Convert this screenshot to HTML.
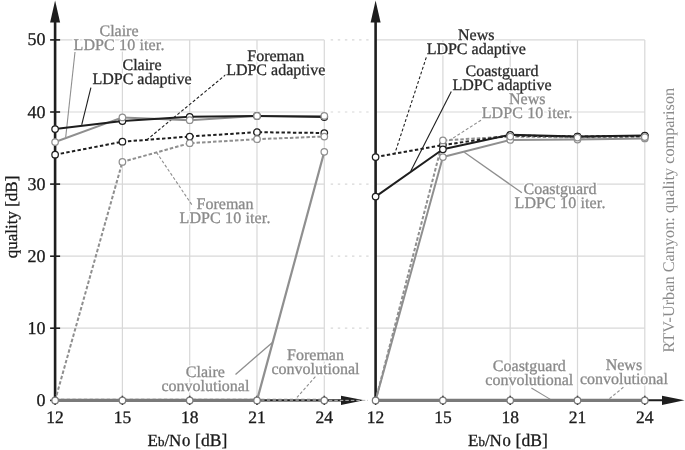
<!DOCTYPE html>
<html><head><meta charset="utf-8"><style>
html,body{margin:0;padding:0;background:#fff;}
svg{display:block;will-change:transform;}
text{text-rendering:geometricPrecision;font-family:"Liberation Serif",serif;font-size:16px;}
g.halo text{fill:#fff;stroke:#fff;stroke-width:3px;stroke-linejoin:round;}
g.lab text{stroke-width:0.3px;}
text.tk{font-size:18px;fill:#1a1a1a;stroke:#1a1a1a;stroke-width:0.3px;}
text.ax{font-size:17px;fill:#1a1a1a;stroke:#1a1a1a;stroke-width:0.3px;}
</style></head><body>
<svg width="685" height="450" viewBox="0 0 685 450">
<rect width="685" height="450" fill="#fff"/>
<g stroke="#d8d8d8" stroke-width="1.2"><line x1="55.1" y1="328.2" x2="324.3" y2="328.2"/><line x1="375.6" y1="328.2" x2="644.8" y2="328.2"/><line x1="55.1" y1="256.2" x2="324.3" y2="256.2"/><line x1="375.6" y1="256.2" x2="644.8" y2="256.2"/><line x1="55.1" y1="184.1" x2="324.3" y2="184.1"/><line x1="375.6" y1="184.1" x2="644.8" y2="184.1"/><line x1="55.1" y1="112.0" x2="324.3" y2="112.0"/><line x1="375.6" y1="112.0" x2="644.8" y2="112.0"/><line x1="55.1" y1="39.9" x2="324.3" y2="39.9"/><line x1="375.6" y1="39.9" x2="644.8" y2="39.9"/><line x1="122.4" y1="39.9" x2="122.4" y2="400.4"/><line x1="442.9" y1="39.9" x2="442.9" y2="400.4"/><line x1="189.7" y1="39.9" x2="189.7" y2="400.4"/><line x1="510.2" y1="39.9" x2="510.2" y2="400.4"/><line x1="257.0" y1="39.9" x2="257.0" y2="400.4"/><line x1="577.5" y1="39.9" x2="577.5" y2="400.4"/><line x1="324.3" y1="39.9" x2="324.3" y2="400.4"/><line x1="644.8" y1="39.9" x2="644.8" y2="400.4"/></g><g stroke="#d8d8d8" stroke-width="1.2" stroke-dasharray="2.4 4.7"><line x1="330.7" y1="328.2" x2="371.6" y2="328.2"/><line x1="330.7" y1="256.2" x2="371.6" y2="256.2"/><line x1="330.7" y1="184.1" x2="371.6" y2="184.1"/><line x1="330.7" y1="112.0" x2="371.6" y2="112.0"/><line x1="330.7" y1="39.9" x2="371.6" y2="39.9"/></g><line x1="55.1" y1="22" x2="55.1" y2="400.35" stroke="#1e1e1e" stroke-width="2.6"/><polygon points="55.1,0.5 50.1,22.5 60.1,22.5" fill="#1e1e1e"/><line x1="375.6" y1="22" x2="375.6" y2="400.35" stroke="#1e1e1e" stroke-width="2.6"/><polygon points="375.6,0.5 370.6,22.5 380.6,22.5" fill="#1e1e1e"/><line x1="55.1" y1="400.35" x2="342" y2="400.35" stroke="#1e1e1e" stroke-width="2.3"/><polygon points="364,400.35 341,395.65000000000003 341,405.05" fill="#1e1e1e"/><line x1="375.6" y1="400.35" x2="663" y2="400.35" stroke="#1e1e1e" stroke-width="2"/><polygon points="684.5,400.35 662,395.65000000000003 662,405.05" fill="#1e1e1e"/><line x1="50.1" y1="400.4" x2="60.1" y2="400.4" stroke="#1e1e1e" stroke-width="1.6"/><line x1="50.1" y1="328.2" x2="60.1" y2="328.2" stroke="#1e1e1e" stroke-width="1.6"/><line x1="50.1" y1="256.2" x2="60.1" y2="256.2" stroke="#1e1e1e" stroke-width="1.6"/><line x1="50.1" y1="184.1" x2="60.1" y2="184.1" stroke="#1e1e1e" stroke-width="1.6"/><line x1="50.1" y1="112.0" x2="60.1" y2="112.0" stroke="#1e1e1e" stroke-width="1.6"/><line x1="50.1" y1="39.9" x2="60.1" y2="39.9" stroke="#1e1e1e" stroke-width="1.6"/><line x1="55.1" y1="395.75" x2="55.1" y2="404.95000000000005" stroke="#1e1e1e" stroke-width="1.6"/><line x1="375.6" y1="395.75" x2="375.6" y2="404.95000000000005" stroke="#1e1e1e" stroke-width="1.6"/><line x1="122.4" y1="395.75" x2="122.4" y2="404.95000000000005" stroke="#1e1e1e" stroke-width="1.6"/><line x1="442.9" y1="395.75" x2="442.9" y2="404.95000000000005" stroke="#1e1e1e" stroke-width="1.6"/><line x1="189.7" y1="395.75" x2="189.7" y2="404.95000000000005" stroke="#1e1e1e" stroke-width="1.6"/><line x1="510.2" y1="395.75" x2="510.2" y2="404.95000000000005" stroke="#1e1e1e" stroke-width="1.6"/><line x1="257.0" y1="395.75" x2="257.0" y2="404.95000000000005" stroke="#1e1e1e" stroke-width="1.6"/><line x1="577.5" y1="395.75" x2="577.5" y2="404.95000000000005" stroke="#1e1e1e" stroke-width="1.6"/><line x1="324.3" y1="395.75" x2="324.3" y2="404.95000000000005" stroke="#1e1e1e" stroke-width="1.6"/><line x1="644.8" y1="395.75" x2="644.8" y2="404.95000000000005" stroke="#1e1e1e" stroke-width="1.6"/><line x1="75" y1="52" x2="65.7" y2="137.3" stroke="#8f8f8f" stroke-width="1.1"/><line x1="90.9" y1="87.7" x2="81.7" y2="124.9" stroke="#1e1e1e" stroke-width="1.1"/><line x1="226" y1="74.5" x2="145.8" y2="140.7" stroke="#1e1e1e" stroke-width="1.1" stroke-dasharray="3 2"/><line x1="156.5" y1="152.4" x2="192" y2="205" stroke="#8f8f8f" stroke-width="1.1" stroke-dasharray="3 2"/><line x1="235.5" y1="374.5" x2="273" y2="342" stroke="#8f8f8f" stroke-width="1.3"/><line x1="315.4" y1="376.6" x2="297" y2="397.4" stroke="#8f8f8f" stroke-width="1.1" stroke-dasharray="3 2"/><line x1="426.3" y1="57.3" x2="395" y2="153" stroke="#1e1e1e" stroke-width="1.1" stroke-dasharray="3 2"/><line x1="451.3" y1="91.5" x2="410.8" y2="171" stroke="#1e1e1e" stroke-width="1.1"/><line x1="481" y1="120.2" x2="449" y2="140.7" stroke="#8f8f8f" stroke-width="1.1" stroke-dasharray="3 2"/><line x1="464.3" y1="152.3" x2="521.9" y2="192.7" stroke="#8f8f8f" stroke-width="1.3"/><line x1="531.4" y1="388" x2="550.8" y2="399.6" stroke="#8f8f8f" stroke-width="1.1"/><line x1="623.4" y1="387.3" x2="607.8" y2="400" stroke="#8f8f8f" stroke-width="1.1" stroke-dasharray="3 2"/><polyline points="55.1,400.4 324.3,400.4" fill="none" stroke="#858585" stroke-width="3.2" stroke-linejoin="round" stroke-dasharray="3.32 2.4" stroke-dashoffset="5.56"/><polyline points="55.1,400.4 122.4,400.4 189.7,400.4 257.0,400.4" fill="none" stroke="#7a7a7a" stroke-width="3.2" stroke-linejoin="round"/><polyline points="257.0,400.4 324.3,151.8" fill="none" stroke="#8f8f8f" stroke-width="2.2" stroke-linejoin="round"/><polyline points="55.1,400.4 122.4,161.9 189.7,143.2 257.0,139.2 324.3,136.5" fill="none" stroke="#8f8f8f" stroke-width="2.0" stroke-linejoin="round" stroke-dasharray="3.5 2.0"/><polyline points="55.1,154.7 122.4,141.7 189.7,136.5 257.0,132.2 324.3,133.0" fill="none" stroke="#1e1e1e" stroke-width="2.0" stroke-linejoin="round" stroke-dasharray="3.4 2.3"/><polyline points="55.1,142.0 122.4,117.4 189.7,120.2 257.0,115.9 324.3,115.9" fill="none" stroke="#8f8f8f" stroke-width="2.0" stroke-linejoin="round"/><polyline points="55.1,129.1 122.4,121.0 189.7,116.8 257.0,115.9 324.3,117.0" fill="none" stroke="#1e1e1e" stroke-width="2.0" stroke-linejoin="round"/><polyline points="375.6,400.4 644.8,400.4" fill="none" stroke="#7a7a7a" stroke-width="3.2" stroke-linejoin="round"/><polyline points="375.6,400.4 442.9,157.0 510.2,139.9 577.5,139.5 644.8,138.4" fill="none" stroke="#8f8f8f" stroke-width="2.0" stroke-linejoin="round"/><polyline points="375.6,400.4 442.9,140.4 510.2,136.5 577.5,137.5 644.8,137.0" fill="none" stroke="#8f8f8f" stroke-width="2.0" stroke-linejoin="round" stroke-dasharray="3.5 2.0"/><polyline points="375.6,157.0 442.9,145.0 510.2,135.5 577.5,136.5 644.8,136.0" fill="none" stroke="#1e1e1e" stroke-width="2.0" stroke-linejoin="round" stroke-dasharray="3.4 2.3"/><polyline points="375.6,196.6 442.9,149.3 510.2,134.8 577.5,136.5 644.8,135.6" fill="none" stroke="#1e1e1e" stroke-width="2.0" stroke-linejoin="round"/><line x1="324.3" y1="400.35" x2="368" y2="400.35" stroke="#b8b8b8" stroke-width="1" stroke-dasharray="3.5 2" stroke-dashoffset="1"/><circle cx="55.1" cy="400.4" r="3.25" fill="#fff" stroke="#7a7a7a" stroke-width="1.25"/><circle cx="122.4" cy="400.4" r="3.25" fill="#fff" stroke="#7a7a7a" stroke-width="1.25"/><circle cx="189.7" cy="400.4" r="3.25" fill="#fff" stroke="#7a7a7a" stroke-width="1.25"/><circle cx="257.0" cy="400.4" r="3.25" fill="#fff" stroke="#7a7a7a" stroke-width="1.25"/><circle cx="324.3" cy="400.4" r="3.25" fill="#fff" stroke="#7a7a7a" stroke-width="1.25"/><circle cx="55.1" cy="154.7" r="3.25" fill="#fff" stroke="#1e1e1e" stroke-width="1.25"/><circle cx="122.4" cy="141.7" r="3.25" fill="#fff" stroke="#1e1e1e" stroke-width="1.25"/><circle cx="189.7" cy="136.5" r="3.25" fill="#fff" stroke="#1e1e1e" stroke-width="1.25"/><circle cx="257.0" cy="132.2" r="3.25" fill="#fff" stroke="#1e1e1e" stroke-width="1.25"/><circle cx="324.3" cy="133.0" r="3.25" fill="#fff" stroke="#1e1e1e" stroke-width="1.25"/><circle cx="55.1" cy="129.1" r="3.25" fill="#fff" stroke="#1e1e1e" stroke-width="1.25"/><circle cx="122.4" cy="121.0" r="3.25" fill="#fff" stroke="#1e1e1e" stroke-width="1.25"/><circle cx="189.7" cy="116.8" r="3.25" fill="#fff" stroke="#1e1e1e" stroke-width="1.25"/><circle cx="257.0" cy="115.9" r="3.25" fill="#fff" stroke="#1e1e1e" stroke-width="1.25"/><circle cx="324.3" cy="117.0" r="3.25" fill="#fff" stroke="#1e1e1e" stroke-width="1.25"/><circle cx="324.3" cy="151.8" r="3.25" fill="#fff" stroke="#8f8f8f" stroke-width="1.25"/><circle cx="122.4" cy="161.9" r="3.25" fill="#fff" stroke="#8f8f8f" stroke-width="1.25"/><circle cx="189.7" cy="143.2" r="3.25" fill="#fff" stroke="#8f8f8f" stroke-width="1.25"/><circle cx="257.0" cy="139.2" r="3.25" fill="#fff" stroke="#8f8f8f" stroke-width="1.25"/><circle cx="324.3" cy="136.5" r="3.25" fill="#fff" stroke="#8f8f8f" stroke-width="1.25"/><circle cx="55.1" cy="142.0" r="3.25" fill="#fff" stroke="#8f8f8f" stroke-width="1.25"/><circle cx="122.4" cy="117.4" r="3.25" fill="#fff" stroke="#8f8f8f" stroke-width="1.25"/><circle cx="189.7" cy="120.2" r="3.25" fill="#fff" stroke="#8f8f8f" stroke-width="1.25"/><circle cx="257.0" cy="115.9" r="3.25" fill="#fff" stroke="#8f8f8f" stroke-width="1.25"/><circle cx="324.3" cy="115.9" r="3.25" fill="#fff" stroke="#8f8f8f" stroke-width="1.25"/><circle cx="375.6" cy="400.4" r="3.25" fill="#fff" stroke="#7a7a7a" stroke-width="1.25"/><circle cx="442.9" cy="400.4" r="3.25" fill="#fff" stroke="#7a7a7a" stroke-width="1.25"/><circle cx="510.2" cy="400.4" r="3.25" fill="#fff" stroke="#7a7a7a" stroke-width="1.25"/><circle cx="577.5" cy="400.4" r="3.25" fill="#fff" stroke="#7a7a7a" stroke-width="1.25"/><circle cx="644.8" cy="400.4" r="3.25" fill="#fff" stroke="#7a7a7a" stroke-width="1.25"/><circle cx="375.6" cy="157.0" r="3.25" fill="#fff" stroke="#1e1e1e" stroke-width="1.25"/><circle cx="442.9" cy="145.0" r="3.25" fill="#fff" stroke="#1e1e1e" stroke-width="1.25"/><circle cx="510.2" cy="135.5" r="3.25" fill="#fff" stroke="#1e1e1e" stroke-width="1.25"/><circle cx="577.5" cy="136.5" r="3.25" fill="#fff" stroke="#1e1e1e" stroke-width="1.25"/><circle cx="644.8" cy="136.0" r="3.25" fill="#fff" stroke="#1e1e1e" stroke-width="1.25"/><circle cx="375.6" cy="196.6" r="3.25" fill="#fff" stroke="#1e1e1e" stroke-width="1.25"/><circle cx="442.9" cy="149.3" r="3.25" fill="#fff" stroke="#1e1e1e" stroke-width="1.25"/><circle cx="510.2" cy="134.8" r="3.25" fill="#fff" stroke="#1e1e1e" stroke-width="1.25"/><circle cx="577.5" cy="136.5" r="3.25" fill="#fff" stroke="#1e1e1e" stroke-width="1.25"/><circle cx="644.8" cy="135.6" r="3.25" fill="#fff" stroke="#1e1e1e" stroke-width="1.25"/><circle cx="442.9" cy="157.0" r="3.25" fill="#fff" stroke="#8f8f8f" stroke-width="1.25"/><circle cx="510.2" cy="139.9" r="3.25" fill="#fff" stroke="#8f8f8f" stroke-width="1.25"/><circle cx="577.5" cy="139.5" r="3.25" fill="#fff" stroke="#8f8f8f" stroke-width="1.25"/><circle cx="644.8" cy="138.4" r="3.25" fill="#fff" stroke="#8f8f8f" stroke-width="1.25"/><circle cx="442.9" cy="140.4" r="3.25" fill="#fff" stroke="#8f8f8f" stroke-width="1.25"/><circle cx="510.2" cy="136.5" r="3.25" fill="#fff" stroke="#8f8f8f" stroke-width="1.25"/><circle cx="577.5" cy="137.5" r="3.25" fill="#fff" stroke="#8f8f8f" stroke-width="1.25"/><circle cx="644.8" cy="137.0" r="3.25" fill="#fff" stroke="#8f8f8f" stroke-width="1.25"/><g class="halo"><text x="119" y="36.300000000000004" text-anchor="middle">Claire</text><text x="119" y="50.300000000000004" text-anchor="middle"><tspan letter-spacing="0.13">LDPC 10 iter.</tspan></text><text x="142" y="69.89999999999999" text-anchor="middle">Claire</text><text x="142" y="83.89999999999999" text-anchor="middle">LDPC adaptive</text><text x="275.7" y="60.6" text-anchor="middle">Foreman</text><text x="275.7" y="74.6" text-anchor="middle">LDPC adaptive</text><text x="225" y="208.6" text-anchor="middle">Foreman</text><text x="225" y="222.6" text-anchor="middle"><tspan letter-spacing="0.13">LDPC 10 iter.</tspan></text><text x="205.4" y="376.70000000000005" text-anchor="middle">Claire</text><text x="205.4" y="390.70000000000005" text-anchor="middle">convolutional</text><text x="315.5" y="359.6" text-anchor="middle">Foreman</text><text x="315.5" y="373.6" text-anchor="middle">convolutional</text><text x="476.2" y="40.300000000000004" text-anchor="middle">News</text><text x="476.2" y="54.300000000000004" text-anchor="middle">LDPC adaptive</text><text x="502" y="76.0" text-anchor="middle">Coastguard</text><text x="502" y="90.0" text-anchor="middle">LDPC adaptive</text><text x="527.2" y="104.39999999999999" text-anchor="middle">News</text><text x="527.2" y="118.39999999999999" text-anchor="middle"><tspan letter-spacing="0.13">LDPC 10 iter.</tspan></text><text x="560" y="194.1" text-anchor="middle">Coastguard</text><text x="560" y="208.1" text-anchor="middle"><tspan letter-spacing="0.13">LDPC 10 iter.</tspan></text><text x="529.3" y="371.0" text-anchor="middle">Coastguard</text><text x="529.3" y="385.0" text-anchor="middle">convolutional</text><text x="623.9" y="370.20000000000005" text-anchor="middle">News</text><text x="623.9" y="384.20000000000005" text-anchor="middle">convolutional</text></g><g class="lab"><text x="119" y="36.300000000000004" fill="#8a8a8a" stroke="#8a8a8a" text-anchor="middle">Claire</text><text x="119" y="50.300000000000004" fill="#8a8a8a" stroke="#8a8a8a" text-anchor="middle"><tspan letter-spacing="0.13">LDPC 10 iter.</tspan></text><text x="142" y="69.89999999999999" fill="#2a2a2a" stroke="#2a2a2a" text-anchor="middle">Claire</text><text x="142" y="83.89999999999999" fill="#2a2a2a" stroke="#2a2a2a" text-anchor="middle">LDPC adaptive</text><text x="275.7" y="60.6" fill="#2a2a2a" stroke="#2a2a2a" text-anchor="middle">Foreman</text><text x="275.7" y="74.6" fill="#2a2a2a" stroke="#2a2a2a" text-anchor="middle">LDPC adaptive</text><text x="225" y="208.6" fill="#8a8a8a" stroke="#8a8a8a" text-anchor="middle">Foreman</text><text x="225" y="222.6" fill="#8a8a8a" stroke="#8a8a8a" text-anchor="middle"><tspan letter-spacing="0.13">LDPC 10 iter.</tspan></text><text x="205.4" y="376.70000000000005" fill="#8a8a8a" stroke="#8a8a8a" text-anchor="middle">Claire</text><text x="205.4" y="390.70000000000005" fill="#8a8a8a" stroke="#8a8a8a" text-anchor="middle">convolutional</text><text x="315.5" y="359.6" fill="#8a8a8a" stroke="#8a8a8a" text-anchor="middle">Foreman</text><text x="315.5" y="373.6" fill="#8a8a8a" stroke="#8a8a8a" text-anchor="middle">convolutional</text><text x="476.2" y="40.300000000000004" fill="#2a2a2a" stroke="#2a2a2a" text-anchor="middle">News</text><text x="476.2" y="54.300000000000004" fill="#2a2a2a" stroke="#2a2a2a" text-anchor="middle">LDPC adaptive</text><text x="502" y="76.0" fill="#2a2a2a" stroke="#2a2a2a" text-anchor="middle">Coastguard</text><text x="502" y="90.0" fill="#2a2a2a" stroke="#2a2a2a" text-anchor="middle">LDPC adaptive</text><text x="527.2" y="104.39999999999999" fill="#8a8a8a" stroke="#8a8a8a" text-anchor="middle">News</text><text x="527.2" y="118.39999999999999" fill="#8a8a8a" stroke="#8a8a8a" text-anchor="middle"><tspan letter-spacing="0.13">LDPC 10 iter.</tspan></text><text x="560" y="194.1" fill="#8a8a8a" stroke="#8a8a8a" text-anchor="middle">Coastguard</text><text x="560" y="208.1" fill="#8a8a8a" stroke="#8a8a8a" text-anchor="middle"><tspan letter-spacing="0.13">LDPC 10 iter.</tspan></text><text x="529.3" y="371.0" fill="#8a8a8a" stroke="#8a8a8a" text-anchor="middle">Coastguard</text><text x="529.3" y="385.0" fill="#8a8a8a" stroke="#8a8a8a" text-anchor="middle">convolutional</text><text x="623.9" y="370.20000000000005" fill="#8a8a8a" stroke="#8a8a8a" text-anchor="middle">News</text><text x="623.9" y="384.20000000000005" fill="#8a8a8a" stroke="#8a8a8a" text-anchor="middle">convolutional</text></g><text x="45.6" y="405.9" text-anchor="end" class="tk">0</text><text x="45.6" y="333.8" text-anchor="end" class="tk">10</text><text x="45.6" y="261.7" text-anchor="end" class="tk">20</text><text x="45.6" y="189.6" text-anchor="end" class="tk">30</text><text x="45.6" y="117.5" text-anchor="end" class="tk">40</text><text x="45.6" y="45.4" text-anchor="end" class="tk">50</text><text x="55.1" y="422.7" text-anchor="middle" class="tk" style="font-size:17.5px">12</text><text x="375.6" y="422.7" text-anchor="middle" class="tk" style="font-size:17.5px">12</text><text x="122.4" y="422.7" text-anchor="middle" class="tk" style="font-size:17.5px">15</text><text x="442.9" y="422.7" text-anchor="middle" class="tk" style="font-size:17.5px">15</text><text x="189.7" y="422.7" text-anchor="middle" class="tk" style="font-size:17.5px">18</text><text x="510.2" y="422.7" text-anchor="middle" class="tk" style="font-size:17.5px">18</text><text x="257.0" y="422.7" text-anchor="middle" class="tk" style="font-size:17.5px">21</text><text x="577.5" y="422.7" text-anchor="middle" class="tk" style="font-size:17.5px">21</text><text x="324.3" y="422.7" text-anchor="middle" class="tk" style="font-size:17.5px">24</text><text x="644.8" y="422.7" text-anchor="middle" class="tk" style="font-size:17.5px">24</text><text x="147.5" y="446" class="ax">E<tspan style="font-size:13px">b</tspan>/N</text><text transform="translate(182.1,446) scale(1.28,1)" class="ax" style="font-size:13px">0</text><text x="195.1" y="446" class="ax" style="font-size:17.6px">[dB]</text><text x="468" y="446" class="ax">E<tspan style="font-size:13px">b</tspan>/N</text><text transform="translate(502.6,446) scale(1.28,1)" class="ax" style="font-size:13px">0</text><text x="515.6" y="446" class="ax" style="font-size:17.6px">[dB]</text><text transform="translate(16.5,258.3) rotate(-90)" class="ax">quality [dB]</text><text transform="translate(673.6,352.6) rotate(-90)" fill="#8a8a8a" style="font-size:16.3px">RTV-Urban Canyon: quality comparison</text>
</svg>
</body></html>
